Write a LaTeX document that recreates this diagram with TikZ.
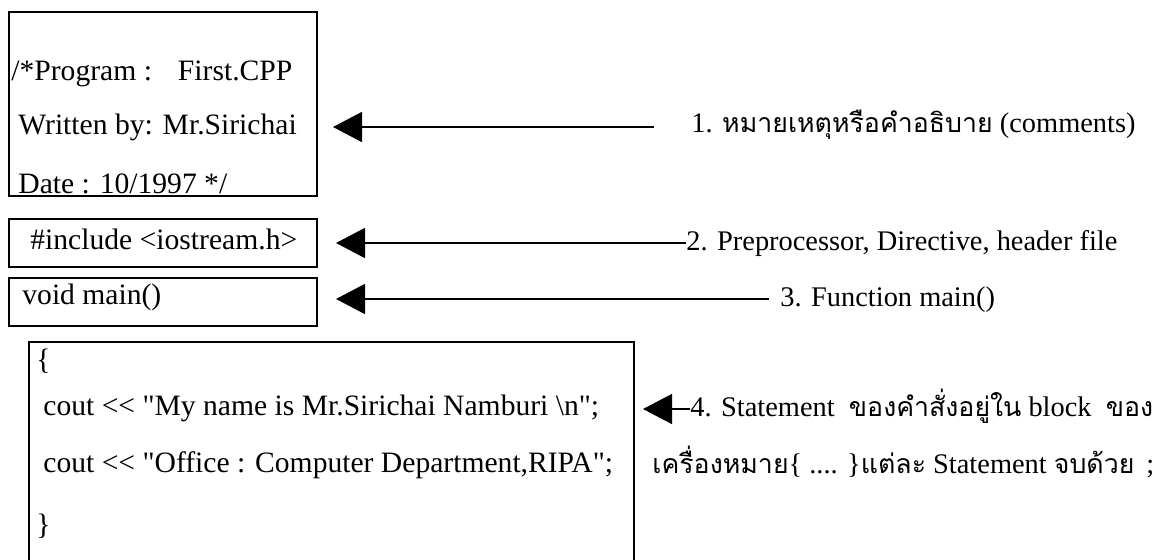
\documentclass[tikz,border=0pt]{standalone}
\usepackage{fontspec}
\setmainfont{Liberation Serif}
\newfontfamily\thaifont[Script=Thai, Scale=0.94]{Loma}
\usetikzlibrary{arrows.meta}
\tikzset{
  codebox/.style={draw=black, line width=0.9pt, inner sep=0pt},
  codeline/.style={anchor=base west, inner sep=0pt, font=\fontsize{14.8}{16}\selectfont},
  noteline/.style={anchor=base west, inner sep=0pt, font=\fontsize{14.2}{16}\selectfont},
  pointer/.style={-{Triangle[length=14.5pt,width=15pt]}, line width=0.8pt},
}
\newcommand{\qt}{\textquotedbl}
\begin{document}
\begin{tikzpicture}[x=0.5pt, y=-0.5pt]
\useasboundingbox (0,0) rectangle (1165,559);
% boxes of the program
\node[codebox, anchor=north west, minimum width=154pt, minimum height=92pt] (comment) at (8,11) {};
\node[codebox, anchor=north west, minimum width=154pt, minimum height=24pt] (include) at (8,218) {};
\node[codebox, anchor=north west, minimum width=154pt, minimum height=24pt] (mainfn) at (8,277) {};
\node[codebox, anchor=north west, minimum width=302.5pt, minimum height=140pt] (block) at (28,341) {};
% code lines
\node[codeline] (p1) at (11,80) {/*Program :\hspace{13pt}First.CPP};
\node[codeline] (p2) at (18,134) {Written by: Mr.Sirichai};
\node[codeline] (p3) at (18,193) {Date : 10/1997 */};
\node[codeline] (p4) at (30,249) {\#include <iostream.h>};
\node[codeline] (p5) at (22,304) {void main()};
\node[codeline] (p6) at (36,369) {\{};
\node[codeline] (p7) at (43,415) {cout <{}< \qt My name is Mr.Sirichai Namburi \textbackslash n\qt;};
\node[codeline] (p8) at (43,472) {cout <{}< \qt Office : Computer Department,RIPA\qt;};
\node[codeline] (p9) at (36,534) {\}};
% explanations
\node[noteline] (c1) at (691,132) {1. {\thaifont หมายเหตุหรือคำอธิบาย} (comments)};
\node[noteline] (c2) at (686,250) {2. Preprocessor, Directive, header file};
\node[noteline] (c3) at (780,306) {3. Function main()};
\node[noteline] (c4) at (690,416) {4. Statement\ \ {\thaifont ของคำสั่งอยู่ใน} block\ \ {\thaifont ของ}};
\node[noteline] (c5) at (652,473) {{\thaifont เครื่องหมาย}\{ .... \}{\thaifont แต่ละ} Statement {\thaifont จบด้วย}\ \,;};
% arrows
\coordinate (s1) at (654,127); \coordinate (e1) at (333,127);
\coordinate (s2) at (686,243); \coordinate (e2) at (336,243);
\coordinate (s3) at (769,299); \coordinate (e3) at (336,299);
\coordinate (s4) at (690,409); \coordinate (e4) at (643,409);
\draw[pointer] (s1) -- (e1);
\draw[pointer] (s2) -- (e2);
\draw[pointer] (s3) -- (e3);
\draw[pointer] (s4) -- (e4);
\end{tikzpicture}
\end{document}
